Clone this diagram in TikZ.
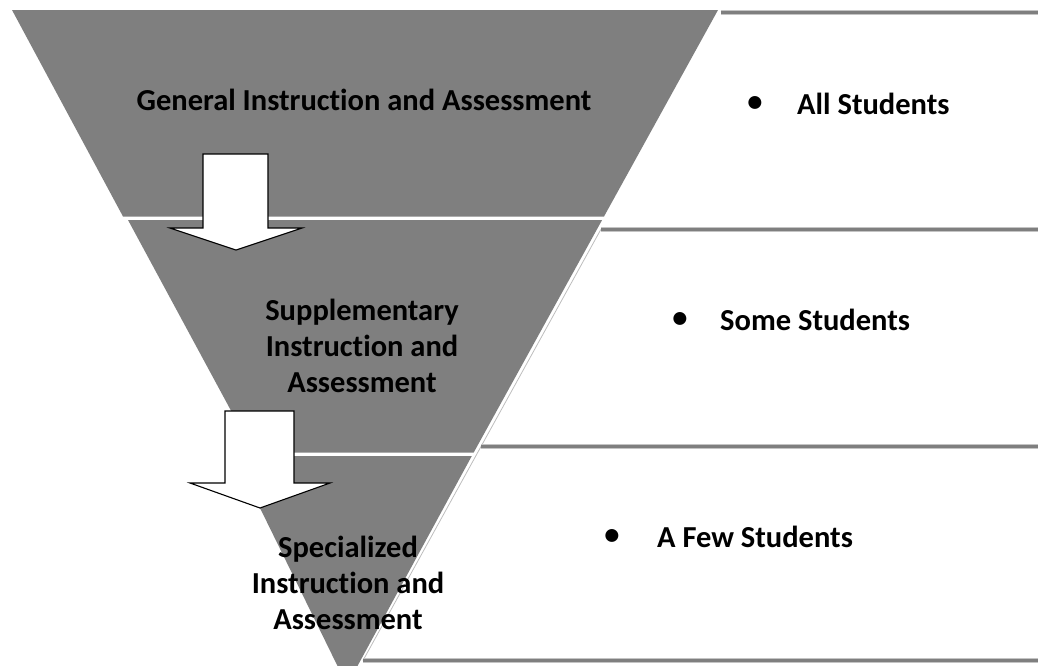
\documentclass[tikz,border=0pt]{standalone}
\usepackage{fontspec}
\setmainfont[Ligatures=NoCommon,RawFeature={-liga}]{Carlito}
\definecolor{pyr}{HTML}{7F7F7F}
\definecolor{lineunder}{HTML}{C4C4C4}
\definecolor{edgeline}{HTML}{BDBDBD}
\tikzset{
  segment/.style={fill=pyr, draw=none},
  boxtop/.style={line width=5pt, draw=lineunder},
  boxtopcore/.style={line width=3pt, draw=pyr},
  boxedge/.style={line width=0.8pt, draw=edgeline},
  blockarrow/.style={fill=white, draw=black, line width=1.1pt, line join=miter},
  segtext/.style={font=\bfseries\fontsize{30.5}{36}\selectfont, align=center, text=black, inner sep=0pt},
  bullettext/.style={font=\bfseries\fontsize{30.5}{36}\selectfont, anchor=west, text=black, inner sep=0pt},
  bulletdot/.style={font=\bfseries\fontsize{30.5}{36}\selectfont, text=black, inner sep=0pt}
}
\begin{document}
\begin{tikzpicture}[x=1pt,y=-1pt]
\useasboundingbox (0,0) rectangle (1038,665);
\begin{scope}
\clip (0,0) rectangle (1038,665);
% pyramid segments
\fill[segment] (12,10) -- (718,10) -- (604,216.5) -- (123,216.5) -- cycle;
\fill[segment] (128,220) -- (602.1,220) -- (473.7,452.5) -- (253.6,452.5) -- cycle;
\fill[segment] (234.5,456) -- (471.8,456) -- (356.4,668) -- (338.5,668) -- cycle;
% right boxes
\coordinate (b1) at (720.6,12.5);
\coordinate (b1e) at (1040,12.5);
\coordinate (b2) at (600.8,229.5);
\coordinate (b2e) at (1040,229.5);
\coordinate (b3) at (481,446.5);
\coordinate (b3e) at (1040,446.5);
\coordinate (b4) at (363,660.5);
\coordinate (b4e) at (1040,660.5);
\draw[boxedge] (b2) -- (b3) -- (b4);
\foreach \s/\e in {b1/b1e,b2/b2e,b3/b3e,b4/b4e}{
  \draw[boxtop] (\s) -- (\e);
  \draw[boxtopcore] (\s) -- (\e);
}
\end{scope}
% block arrows
\draw[blockarrow] (203,228) -- (203,154) -- (268,154) -- (268,228) -- (302,228) -- (236,250) -- (170,228) -- cycle;
\draw[blockarrow] (225,483) -- (225,411) -- (294,411) -- (294,483) -- (330,483) -- (260,508) -- (190,483) -- cycle;
% texts
\node[segtext] (t1) at (364,100) {General Instruction and Assessment};
\node[segtext] (t2) at (362,346) {Supplementary\\Instruction and\\Assessment};
\node[segtext] (t3) at (348,583) {Specialized\\Instruction and\\Assessment};
\node[bulletdot] (d1) at (755,104) {•};
\node[bullettext] (l1) at (797,104) {All Students};
\node[bulletdot] (d2) at (680,320) {•};
\node[bullettext] (l2) at (720,320) {Some Students};
\node[bulletdot] (d3) at (612,537) {•};
\node[bullettext] (l3) at (657,537) {A Few Students};
\end{tikzpicture}
\end{document}
